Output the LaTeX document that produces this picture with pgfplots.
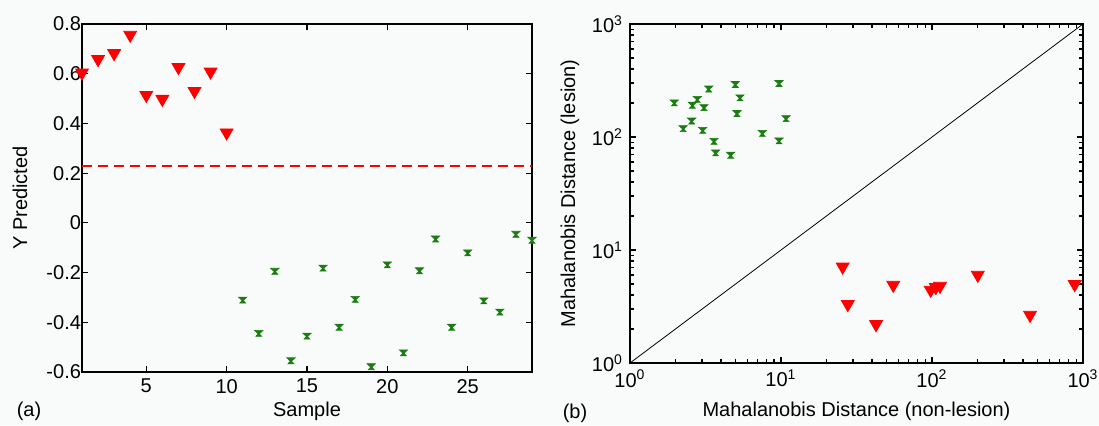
\documentclass[border=0pt]{standalone}
\usepackage{pgfplots}
\pgfplotsset{compat=1.18}
\usepackage{fontspec}
\setmainfont{Liberation Sans}
\definecolor{mgreen}{RGB}{25,125,15}
\definecolor{bgc}{RGB}{249,251,251}
\pgfdeclareplotmark{hourglass}{%
  \pgfpathmoveto{\pgfqpoint{-2.1pt}{1.4pt}}%
  \pgfpathlineto{\pgfqpoint{2.1pt}{1.4pt}}%
  \pgfpathlineto{\pgfqpoint{0pt}{-0.6pt}}%
  \pgfpathclose
  \pgfpathmoveto{\pgfqpoint{-1.5pt}{-1.6pt}}%
  \pgfpathlineto{\pgfqpoint{1.5pt}{-1.6pt}}%
  \pgfpathlineto{\pgfqpoint{0pt}{0pt}}%
  \pgfpathclose
  \pgfusepathqfillstroke
}
\pgfplotsset{
  mystyle/.style={
    scale only axis,
    axis line style={line width=0.7pt},
    tick style={draw=black, line width=0.6pt},
    tickwidth=3pt,
    subtickwidth=1.8pt,
    tick align=inside,
    xtick pos=both, ytick pos=both,
    xticklabel pos=lower, yticklabel pos=left,
    tick label style={font=\fontsize{10}{12}\selectfont},
    label style={font=\fontsize{10}{12}\selectfont},
    clip=false,
  }
}
\begin{document}
\begin{tikzpicture}
\path[use as bounding box, fill=bgc] (0pt,0pt) rectangle (549.5pt,-212.5pt);
% ---- panel (a)
\begin{axis}[mystyle,
  at={(41pt,-186pt)}, anchor=south west,
  width=225pt, height=174pt,
  xmin=1, xmax=29, ymin=-0.6, ymax=0.8,
  xtick={5,10,15,20,25}, xticklabels={5,10,15,20,25},
  ytick={-0.6,-0.4,-0.2,0,0.2,0.4,0.6,0.8},
  yticklabels={-0.6,-0.4,-0.2,0,0.2,0.4,0.6,0.8},
  yticklabel style={xshift=3pt},
  xlabel={Sample}, ylabel={Y Predicted},
  xlabel style={at={(axis description cs:0.5,-0.112)}, anchor=center},
  ylabel style={at={(axis description cs:-0.138,0.5)}, anchor=center},
]
\addplot[red, line width=1pt, dash pattern=on 5pt off 3pt] coordinates {(1,0.23) (29,0.23)};
\addplot[only marks, mark=triangle*, mark size=3.7pt, mark options={rotate=180, fill=red, draw=red}] coordinates {
(1,0.604) (2,0.658) (3,0.682) (4,0.756) (5,0.514) (6,0.498) (7,0.626) (8,0.530) (9,0.608) (10,0.363)
};
\addplot[only marks, mark=hourglass, mark options={fill=mgreen, draw=mgreen, line width=0.3pt}] coordinates {
(11,-0.310) (12,-0.444) (13,-0.194) (14,-0.554) (15,-0.455) (16,-0.181) (17,-0.419) (18,-0.307) (19,-0.578) (20,-0.168)
(21,-0.522) (22,-0.192) (23,-0.064) (24,-0.419) (25,-0.120) (26,-0.313) (27,-0.358) (28,-0.045) (29,-0.069)
};
\end{axis}
% ---- panel (b)
\begin{axis}[mystyle,
  at={(315pt,-181.5pt)}, anchor=south west,
  width=226.5pt, height=169.5pt,
  xmode=log, ymode=log,
  xmin=1, xmax=1000, ymin=1, ymax=1000,
  xtick={1,10,100,1000},
  xticklabels={10\textsuperscript{0},10\textsuperscript{1},10\textsuperscript{2},10\textsuperscript{3}},
  ytick={1,10,100,1000},
  yticklabels={10\textsuperscript{0},10\textsuperscript{1},10\textsuperscript{2},10\textsuperscript{3}},
  minor xtick={2,3,4,5,6,7,8,9,20,30,40,50,60,70,80,90,200,300,400,500,600,700,800,900},
  minor ytick={2,3,4,5,6,7,8,9,20,30,40,50,60,70,80,90,200,300,400,500,600,700,800,900},
  xlabel={Mahalanobis Distance (non-lesion)}, ylabel={Mahalanobis Distance (lesion)},
  xlabel style={at={(axis description cs:0.5,-0.142)}, anchor=center},
  ylabel style={at={(axis description cs:-0.1325,0.5)}, anchor=center},
]
\addplot[black, line width=0.4pt] coordinates {(1,1) (1000,1000)};
\addplot[only marks, mark=hourglass, mark options={fill=mgreen, draw=mgreen, line width=0.3pt}] coordinates {
(1.965,201) (2.25,119) (2.56,139) (2.59,192) (2.79,216) (3.03,115) (3.09,183) (3.32,267) (3.60,92) (3.69,72.6)
(4.64,69.3) (4.98,293) (5.35,223) (5.11,162) (7.52,108) (9.70,299) (9.70,92.7) (10.8,146)
};
\addplot[only marks, mark=triangle*, mark size=3.7pt, mark options={rotate=180, fill=red, draw=red}] coordinates {
(25.6,7.11) (27.7,3.31) (42.6,2.20) (55.4,4.90) (98,4.43) (106,4.68) (113,4.80) (201,6.01) (446,2.66) (881,4.97)
};
\end{axis}
\node[font=\fontsize{10}{12}\selectfont] at (14.5pt,-205.5pt) {(a)};
\node[font=\fontsize{10}{12}\selectfont] at (287.5pt,-206.5pt) {(b)};
\end{tikzpicture}
\end{document}
